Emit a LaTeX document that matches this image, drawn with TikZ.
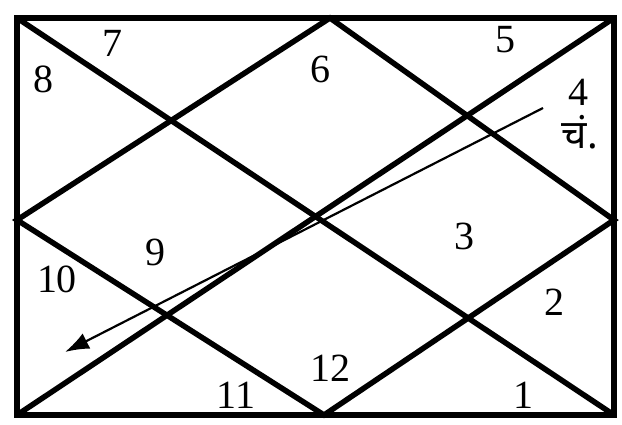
\documentclass[tikz,border=0pt]{standalone}
\usepackage{fontspec}
\setmainfont{Liberation Serif}
\newfontfamily\devfont[Script=Devanagari]{Noto Sans}
\usetikzlibrary{arrows.meta}
\tikzset{
  chartline/.style={line width=5.5pt, line cap=round, line join=miter},
  framebox/.style={line width=6pt, line join=miter},
  num/.style={font=\fontsize{40}{40}\selectfont, inner sep=0pt},
  pointer/.style={line width=2.2pt, -{Latex[length=24pt,width=17pt]}}
}
\begin{document}
\begin{tikzpicture}[x=1pt,y=-1pt]
\useasboundingbox (0,0) rectangle (622,424);
\fill[white] (0,0) rectangle (622,424);
% corners
\coordinate (tl) at (17,18);
\coordinate (tr) at (614,18);
\coordinate (br) at (614,415);
\coordinate (bl) at (17,415);
% midpoints
\coordinate (tm) at (330,18);
\coordinate (rm) at (614,220);
\coordinate (bm) at (324,415);
\coordinate (lm) at (17,220);
% diagonals
\draw[chartline] (tl) -- (br);
\draw[chartline] (tr) -- (bl);
% diamond
\draw[chartline] (tm) -- (rm) -- (bm) -- (lm) -- cycle;
% frame
\draw[framebox] (tl) rectangle (br);
% labels
\node[num] (h7) at (112,43) {7};
\node[num] (h8) at (44,79) {8};
\node[num] (h6) at (320,69) {6};
\node[num] (h5) at (505,40) {5};
\node[num] (h4) at (578,92) {4};
\node[inner sep=0pt, font=\devfont\fontsize{40}{40}\selectfont] (ch) at (580,132) {चं.};
\node[num] (h3) at (464,236) {3};
\node[num] (h9) at (155,252) {9};
\node[num] (h10) at (57,279) {10};
\node[num] (h2) at (554,302) {2};
\node[num] (h12) at (330,368) {12};
\node[num] (h11) at (236,395) {11};
\node[num] (h1) at (523,395) {1};
% arrow
\coordinate (as) at (543,108);
\coordinate (ae) at (65,352);
\draw[pointer] (as) -- (ae);
\end{tikzpicture}
\end{document}
